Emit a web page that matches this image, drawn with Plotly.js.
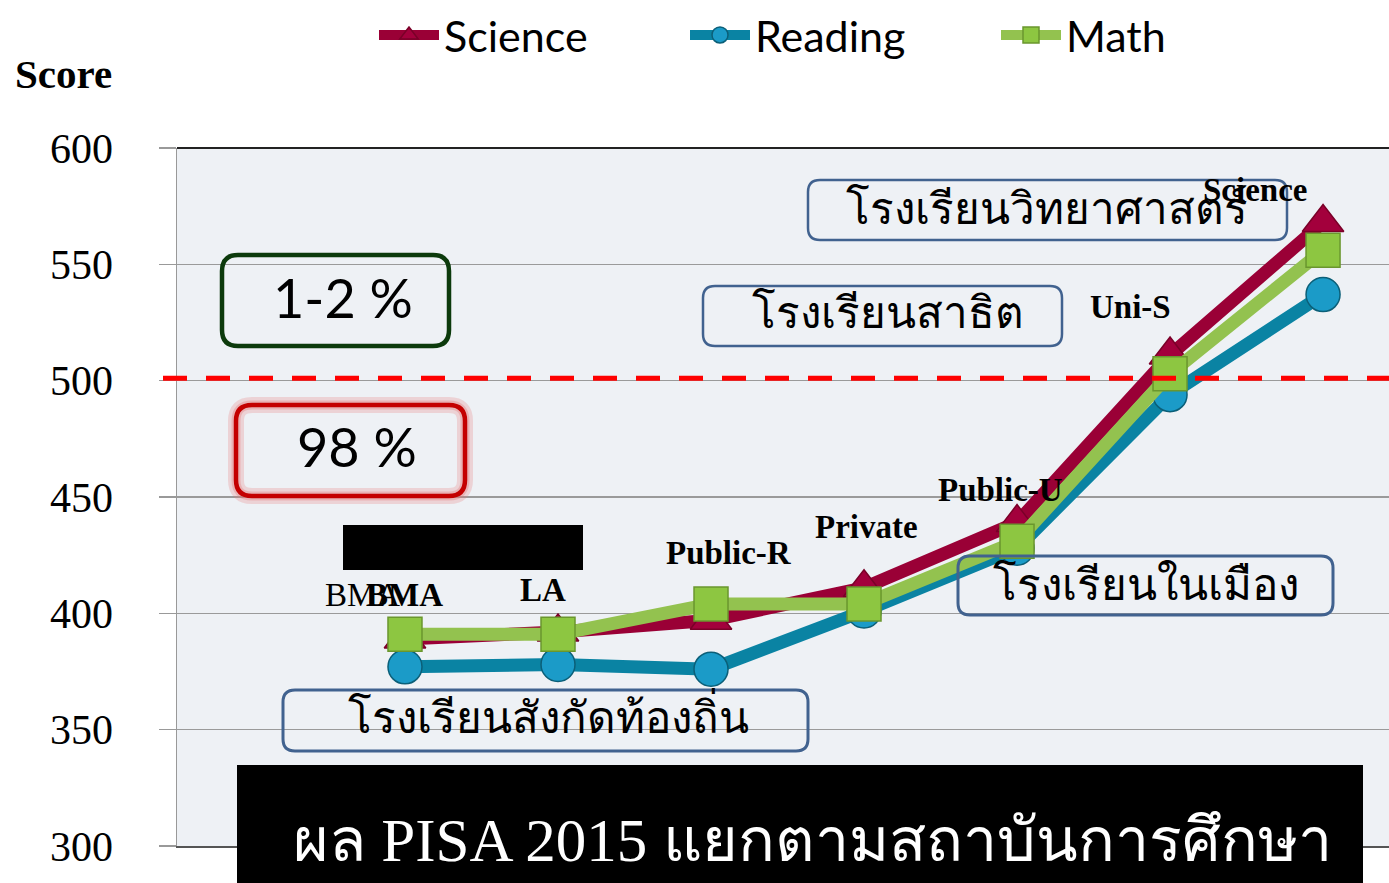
<!DOCTYPE html>
<html><head><meta charset="utf-8">
<script src="https://cdn.plot.ly/plotly-3.0.1.min.js"></script>
<style>html,body{margin:0;padding:0;background:#fff}#chart{width:1389px;height:883px}</style>
</head><body><div id="chart"></div>
<script>
// ---- data ----
const categories = ['BMA', 'LA', 'Public-R', 'Private', 'Public-U', 'Uni-S', 'Science'];
const science = [389, 392, 397, 411, 439, 511, 568];
const reading = [377, 378, 376, 401, 428, 494, 537];
const math = [391, 391, 404, 404, 431, 503, 556];
const seriesNames = ['Science', 'Reading', 'Math'];
const yTickValues = [300, 350, 400, 450, 500, 550, 600];
const benchmark = 501;
const schoolGroups = ['โรงเรียนวิทยาศาสตร์', 'โรงเรียนสาธิต', 'โรงเรียนในเมือง', 'โรงเรียนสังกัดท้องถิ่น'];
const shares = ['1-2 %', '98 %'];
const chartTitle = 'ผล PISA 2015 แยกตามสถาบันการศึกษา';
const yLabel = 'Score';

// ---- layout helpers (pixel -> paper) ----
const L = 177, R = 1389, T = 148, B = 846;
const px = x => (x - L) / (R - L);
const py = y => (B - y) / (B - T);
function rrect(x0, y0, x1, y1, r) {
  const X = px, Y = py;
  return 'M' + X(x0 + r) + ',' + Y(y0) +
    ' L' + X(x1 - r) + ',' + Y(y0) + ' Q' + X(x1) + ',' + Y(y0) + ' ' + X(x1) + ',' + Y(y0 + r) +
    ' L' + X(x1) + ',' + Y(y1 - r) + ' Q' + X(x1) + ',' + Y(y1) + ' ' + X(x1 - r) + ',' + Y(y1) +
    ' L' + X(x0 + r) + ',' + Y(y1) + ' Q' + X(x0) + ',' + Y(y1) + ' ' + X(x0) + ',' + Y(y1 - r) +
    ' L' + X(x0) + ',' + Y(y0 + r) + ' Q' + X(x0) + ',' + Y(y0) + ' ' + X(x0 + r) + ',' + Y(y0) + ' Z';
}
const pshape = (path, color, width, fill) => ({type: 'path', xref: 'paper', yref: 'paper', path: path,
  line: {color: color, width: width}, fillcolor: fill || 'rgba(0,0,0,0)', layer: 'above'});

const traces = [
  {x: categories, y: science, name: seriesNames[0], type: 'scatter', mode: 'lines+markers',
   line: {color: '#9a0036', width: 13},
   marker: {symbol: 'triangle-up', size: 36, color: '#a3003c', line: {color: '#7a0028', width: 1.5}}},
  {x: categories, y: reading, name: seriesNames[1], type: 'scatter', mode: 'lines+markers',
   line: {color: '#0a83a3', width: 13},
   marker: {symbol: 'circle', size: 34, color: '#1b9bc8', line: {color: '#0b5f78', width: 1.5}}},
  {x: categories, y: math, name: seriesNames[2], type: 'scatter', mode: 'lines+markers',
   line: {color: '#93c24f', width: 13},
   marker: {symbol: 'square', size: 34, color: '#8dc641', line: {color: '#6a962e', width: 1.5}}}
];

const serif = 'Liberation Serif, Times New Roman, serif';
const sans = 'Lato, Noto Sans, sans-serif';

const labelPos = [[-42, 595, false], [0, 595, true], [-15, 590, true], [18, 553, true], [2, 527, true], [-17, 490, true], [-40, 307, true], [-68, 190, true]];
const labelIdx = [0, 0, 1, 2, 3, 4, 5, 6];
const annotations = [];
labelIdx.forEach((ci, k) => {
  const p = labelPos[k];
  annotations.push({x: categories[ci], xref: 'x', xshift: p[0], y: py(p[1]), yref: 'paper',
    text: p[2] ? '<b>' + categories[ci] + '</b>' : categories[ci], showarrow: false,
    font: {family: serif, size: 33, color: '#000'}, xanchor: 'center', yanchor: 'middle'});
});
const pa = (x, y, text, font) => ({x: px(x), y: py(y), xref: 'paper', yref: 'paper', text: text,
  showarrow: false, xanchor: 'center', yanchor: 'middle', font: font});
const groupPos = [[1047, 207], [888, 311], [1146, 583], [548, 716]];
schoolGroups.forEach((t, i) => annotations.push(pa(groupPos[i][0], groupPos[i][1], t,
  {family: 'Noto Sans, sans-serif', size: 44, color: '#000'})));
annotations.push(pa(343, 297, shares[0], {family: sans, size: 54, color: '#000'}));
annotations.push(pa(357, 446, shares[1], {family: sans, size: 54, color: '#000'}));
annotations.push(pa(812, 840, chartTitle, {family: serif, size: 61, color: '#fff'}));
annotations.push(pa(63, 74, '<b>' + yLabel + '</b>', {family: serif, size: 41, color: '#000'}));

const shapes = [
  // benchmark line
  {type: 'line', xref: 'paper', yref: 'y', x0: px(163), x1: 1, y0: benchmark, y1: benchmark,
   line: {color: '#ff0000', width: 5, dash: '24px,19px'}, layer: 'above'},
  // top border
  {type: 'line', xref: 'paper', yref: 'paper', x0: 0, x1: 1, y0: 1, y1: 1, line: {color: '#222', width: 2}, layer: 'above'},
  pshape(rrect(808, 180, 1287, 240, 12), '#41628f', 2.5),
  pshape(rrect(703, 286, 1062, 346, 12), '#41628f', 2.5),
  pshape(rrect(958, 556, 1333, 615, 12), '#41628f', 3),
  pshape(rrect(283, 690, 808, 751, 12), '#41628f', 3),
  pshape(rrect(222, 255, 449, 346, 16), '#0c3a0c', 4.5),
  pshape(rrect(236, 405, 465, 496, 16), 'rgba(230,120,120,0.25)', 16),
  pshape(rrect(236, 405, 465, 496, 16), 'rgba(230,120,120,0.35)', 9),
  pshape(rrect(236, 405, 465, 496, 16), '#c40000', 4.5),
  // black boxes
  {type: 'rect', xref: 'paper', yref: 'paper', x0: px(343), x1: px(583), y0: py(570), y1: py(525),
   fillcolor: '#000', line: {width: 0}, layer: 'above'},
  {type: 'rect', xref: 'paper', yref: 'paper', x0: px(237), x1: px(1363), y0: py(890), y1: py(765),
   fillcolor: '#000', line: {width: 0}, layer: 'above'}
];

const layout = {
  width: 1389, height: 883,
  margin: {l: L, r: 1389 - R, t: T, b: 883 - B, pad: 0, autoexpand: false},
  paper_bgcolor: '#ffffff', plot_bgcolor: '#eef1f5',
  showlegend: true,
  legend: {orientation: 'h', x: px(374), xanchor: 'left', y: py(35), yanchor: 'middle',
    font: {family: sans, size: 43, color: '#000'}, itemwidth: 60, entrywidth: 236, entrywidthmode: 'pixels',
    bgcolor: 'rgba(0,0,0,0)', tracegroupgap: 0},
  xaxis: {type: 'category', range: [-1.49, 6.431], showticklabels: false, showgrid: false, zeroline: false,
    showline: true, linecolor: '#555', linewidth: 2, ticks: '', fixedrange: true},
  yaxis: {range: [300, 600], tickvals: yTickValues, ticktext: yTickValues.map(String), showgrid: true,
    gridcolor: '#9a9a9a', gridwidth: 1.5, zeroline: false, showline: true, linecolor: '#999', linewidth: 1.5,
    ticks: 'outside', ticklen: 17, tickcolor: '#999', tickwidth: 1.5, ticklabelstandoff: 37,
    tickfont: {family: serif, size: 42, color: '#000'}, fixedrange: true},
  shapes: shapes,
  annotations: annotations
};

Plotly.newPlot('chart', traces, layout, {displayModeBar: false, staticPlot: true});
</script>
</body></html>
